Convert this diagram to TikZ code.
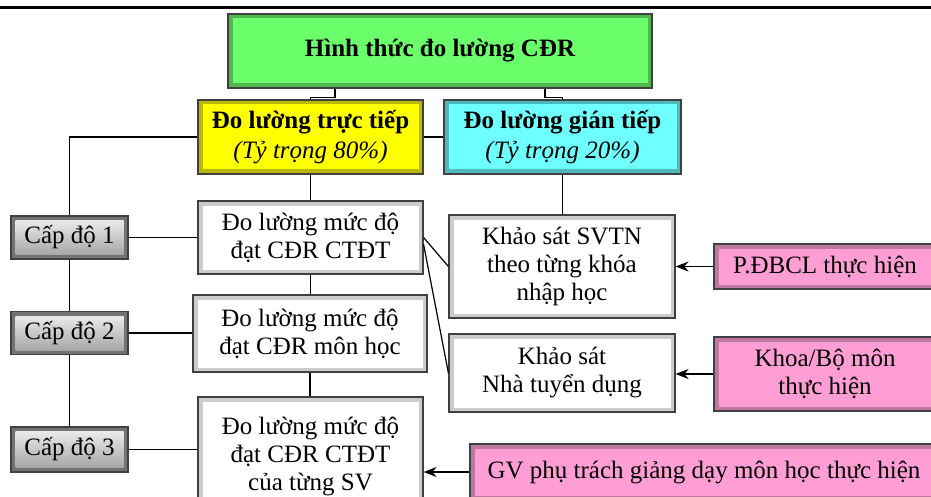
\documentclass[tikz,border=0pt]{standalone}
\usepackage{fontspec}
\setmainfont{Liberation Serif}
\definecolor{boxgreen}{RGB}{108,255,108}
\definecolor{boxyellow}{RGB}{255,255,0}
\definecolor{boxcyan}{RGB}{110,255,255}
\definecolor{boxpink}{RGB}{255,158,212}
\usetikzlibrary{arrows.meta,positioning,calc}

\begin{document}
\begin{tikzpicture}[
  x=1pt,y=-1pt,
  every node/.style={font=\fontsize{25}{28}\selectfont,align=center,inner sep=0pt},
  bevel/.style 2 args={draw=black!75,line width=1.2pt,fill=#1,
    path picture={\fill[#2] ([shift={(4.5pt,4.5pt)}]path picture bounding box.south west)
      rectangle ([shift={(-4.5pt,-4.5pt)}]path picture bounding box.north east);}},
  headbox/.style={bevel={#1!72!black}{#1},font=\fontsize{25}{30}\selectfont\bfseries},
  measbox/.style={bevel={black!20}{white}},
  levelbox/.style={bevel={black!55}{top color=black!5,bottom color=black!38},
    minimum width=117,minimum height=43},
  doerbox/.style={bevel={boxpink!75!black}{boxpink}},
  link/.style={line width=1.2pt},
  feed/.style={line width=1.2pt,-{Stealth[length=13pt,width=10pt]}},
]
  \clip (0,0) rectangle (931,497);
  % Rule at the top
  \draw[line width=3pt] (0,8) -- (931,8);
  % Title
  \node[headbox=boxgreen,minimum width=424,minimum height=74] (title) at (440,51)
    {Hình thức đo lường CĐR};
  % Direct and indirect measurement
  \node[headbox=boxyellow,minimum width=225,minimum height=74] (direct) at (310.5,137)
    {Đo lường trực tiếp\\{\mdseries\itshape (Tỷ trọng 80\%)}};
  \node[headbox=boxcyan,minimum width=237,minimum height=74] (indirect) at (562.5,137)
    {Đo lường gián tiếp\\{\mdseries\itshape (Tỷ trọng 20\%)}};
  % Levels
  \node[levelbox] (lvlA) at (69.5,237.5) {Cấp độ 1};
  \node[levelbox] (lvlB) at (69.5,333) {Cấp độ 2};
  \node[levelbox,minimum height=45] (lvlC) at (69.5,449.5) {Cấp độ 3};
  % Direct measurement boxes
  \node[measbox,minimum width=225,minimum height=73] (progbox) at (310.5,237.5)
    {Đo lường mức độ\\đạt CĐR CTĐT};
  \node[measbox,minimum width=234,minimum height=77] (coursebox) at (310,333.5)
    {Đo lường mức độ\\đạt CĐR môn học};
  \node[measbox,minimum width=225,minimum height=118] (studbox) at (310.5,456)
    {Đo lường mức độ\\đạt CĐR CTĐT\\của từng SV};
  % Surveys
  \node[measbox,minimum width=226,minimum height=103] (survey) at (562,266.5)
    {Khảo sát SVTN\\theo từng khóa\\nhập học};
  \node[measbox,minimum width=226,minimum height=78] (employ) at (562,373)
    {Khảo sát\\Nhà tuyển dụng};
  % Who carries it out
  \node[doerbox,minimum width=222,minimum height=45] (qa) at (825,266.5)
    {P.ĐBCL thực hiện};
  \node[doerbox,minimum width=222,minimum height=74] (dept) at (825,374)
    {Khoa/Bộ môn\\thực hiện};
  \node[doerbox,minimum width=468,minimum height=56] (lecturer) at (704,472)
    {GV phụ trách giảng dạy môn học thực hiện};
  % Tree links
  \draw[link] ([xshift=-105pt]title.south) -- ++(0,9) -| (direct.north);
  \draw[link] ([xshift=105pt]title.south) -- ++(0,9) -| (indirect.north);
  \draw[link] (direct.east) -- (indirect.west);
  \draw[link] (direct.west) -| (lvlA.north);
  \draw[link] (lvlA.south) -- (lvlB.north);
  \draw[link] (lvlB.south) -- (lvlC.north);
  \draw[link] (lvlA.east) -- (progbox.west);
  \draw[link] (lvlB.east) -- (lvlB.east -| coursebox.west);
  \draw[link] (lvlC.east) -- (lvlC.east -| studbox.west);
  \draw[link] (direct.south) -- (progbox.north);
  \draw[link] (progbox.south) -- (progbox.south |- coursebox.north);
  \draw[link] (coursebox.south) -- (coursebox.south |- studbox.north);
  \draw[link] (indirect.south) -- (indirect.south |- survey.north);
  \draw[link] (progbox.east) -- (survey.west);
  \draw[link] ([yshift=-7pt]progbox.east) -- (employ.west);
  % Arrows from the doers
  \draw[feed] (qa.west) -- (survey.east);
  \draw[feed] (dept.west) -- (dept.west -| employ.east);
  \draw[feed] (lecturer.west) -- (lecturer.west -| studbox.east);
\end{tikzpicture}
\end{document}
